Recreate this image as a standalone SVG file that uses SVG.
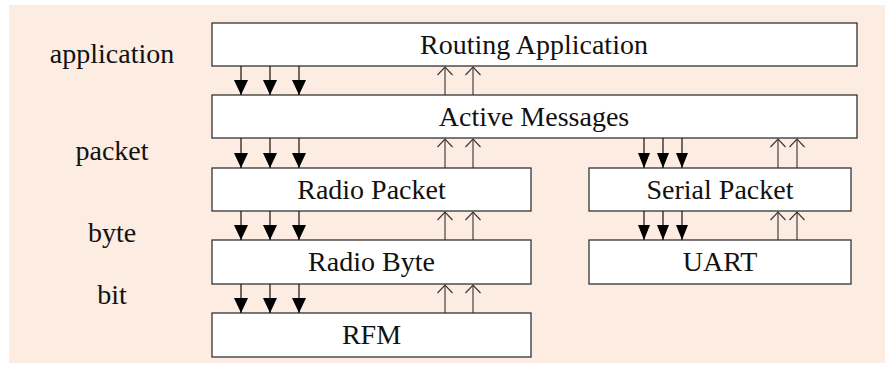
<svg xmlns="http://www.w3.org/2000/svg" width="895" height="371" viewBox="0 0 895 371">
<style>
.bg{fill:#fcece1}
.box{fill:#ffffff;stroke:#333333;stroke-width:1.3}
.t{font-size:28px;fill:#111111;text-anchor:middle}
.dn{stroke:#111111;stroke-width:1.2;fill:none}
.up{stroke:#333333;stroke-width:1.1;fill:none}
</style>
<defs>
<marker id="ah" markerUnits="userSpaceOnUse" markerWidth="16" markerHeight="16" refX="15" refY="7" orient="auto" overflow="visible">
<path d="M0,0 L15,7 L0,14 z" fill="#000000"/>
</marker>
<marker id="ahs" markerUnits="userSpaceOnUse" markerWidth="16" markerHeight="16" refX="15" refY="6" orient="auto" overflow="visible">
<path d="M0,0 L15,6 L0,12 z" fill="#000000"/>
</marker>
<marker id="ao" markerUnits="userSpaceOnUse" markerWidth="10" markerHeight="16" refX="8" refY="7.5" orient="auto" overflow="visible">
<path d="M0,0 L8,7.5 L0,15" fill="none" stroke="#333333" stroke-width="1.1"/>
</marker>
</defs>
<rect class="bg" x="9" y="5" width="876" height="358"/>
<g font-family="'Liberation Serif', 'Times New Roman', serif">
<g id="labels">
<text class="t" x="112" y="63">application</text>
<text class="t" x="112" y="160">packet</text>
<text class="t" x="112" y="242">byte</text>
<text class="t" x="112" y="304">bit</text>
</g>
<g id="routing-application">
<rect class="box" x="212" y="23" width="645" height="43"/>
<text class="t" x="534" y="54">Routing Application</text>
</g>
<g id="active-messages">
<rect class="box" x="212" y="95" width="645" height="43"/>
<text class="t" x="534" y="126">Active Messages</text>
</g>
<g id="radio-packet">
<rect class="box" x="212" y="168" width="319" height="43"/>
<text class="t" x="371.5" y="199">Radio Packet</text>
</g>
<g id="serial-packet">
<rect class="box" x="589" y="168" width="262" height="43"/>
<text class="t" x="720" y="199">Serial Packet</text>
</g>
<g id="radio-byte">
<rect class="box" x="212" y="240" width="319" height="44"/>
<text class="t" x="371.5" y="271">Radio Byte</text>
</g>
<g id="uart">
<rect class="box" x="589" y="240" width="262" height="44"/>
<text class="t" x="720" y="271">UART</text>
</g>
<g id="rfm">
<rect class="box" x="212" y="313" width="319" height="44"/>
<text class="t" x="371.5" y="344">RFM</text>
</g>
</g>
<g id="connectors">
<line class="dn" x1="241" y1="66" x2="241" y2="95" marker-end="url(#ah)"/>
<line class="dn" x1="270" y1="66" x2="270" y2="95" marker-end="url(#ah)"/>
<line class="dn" x1="299" y1="66" x2="299" y2="95" marker-end="url(#ah)"/>
<line class="up" x1="445" y1="95" x2="445" y2="67" marker-end="url(#ao)"/>
<line class="up" x1="473" y1="95" x2="473" y2="67" marker-end="url(#ao)"/>
<line class="dn" x1="241" y1="138" x2="241" y2="168" marker-end="url(#ah)"/>
<line class="dn" x1="270" y1="138" x2="270" y2="168" marker-end="url(#ah)"/>
<line class="dn" x1="299" y1="138" x2="299" y2="168" marker-end="url(#ah)"/>
<line class="up" x1="445" y1="168" x2="445" y2="139" marker-end="url(#ao)"/>
<line class="up" x1="473" y1="168" x2="473" y2="139" marker-end="url(#ao)"/>
<line class="dn" x1="241" y1="211" x2="241" y2="240" marker-end="url(#ah)"/>
<line class="dn" x1="270" y1="211" x2="270" y2="240" marker-end="url(#ah)"/>
<line class="dn" x1="299" y1="211" x2="299" y2="240" marker-end="url(#ah)"/>
<line class="up" x1="445" y1="240" x2="445" y2="212" marker-end="url(#ao)"/>
<line class="up" x1="473" y1="240" x2="473" y2="212" marker-end="url(#ao)"/>
<line class="dn" x1="241" y1="284" x2="241" y2="313" marker-end="url(#ah)"/>
<line class="dn" x1="270" y1="284" x2="270" y2="313" marker-end="url(#ah)"/>
<line class="dn" x1="299" y1="284" x2="299" y2="313" marker-end="url(#ah)"/>
<line class="up" x1="445" y1="313" x2="445" y2="285" marker-end="url(#ao)"/>
<line class="up" x1="473" y1="313" x2="473" y2="285" marker-end="url(#ao)"/>
<line class="dn" x1="644" y1="138" x2="644" y2="168" marker-end="url(#ahs)"/>
<line class="dn" x1="663" y1="138" x2="663" y2="168" marker-end="url(#ahs)"/>
<line class="dn" x1="682" y1="138" x2="682" y2="168" marker-end="url(#ahs)"/>
<line class="up" x1="778" y1="168" x2="778" y2="139" marker-end="url(#ao)"/>
<line class="up" x1="797" y1="168" x2="797" y2="139" marker-end="url(#ao)"/>
<line class="dn" x1="644" y1="211" x2="644" y2="240" marker-end="url(#ahs)"/>
<line class="dn" x1="663" y1="211" x2="663" y2="240" marker-end="url(#ahs)"/>
<line class="dn" x1="682" y1="211" x2="682" y2="240" marker-end="url(#ahs)"/>
<line class="up" x1="778" y1="240" x2="778" y2="212" marker-end="url(#ao)"/>
<line class="up" x1="797" y1="240" x2="797" y2="212" marker-end="url(#ao)"/>
</g>
</svg>
